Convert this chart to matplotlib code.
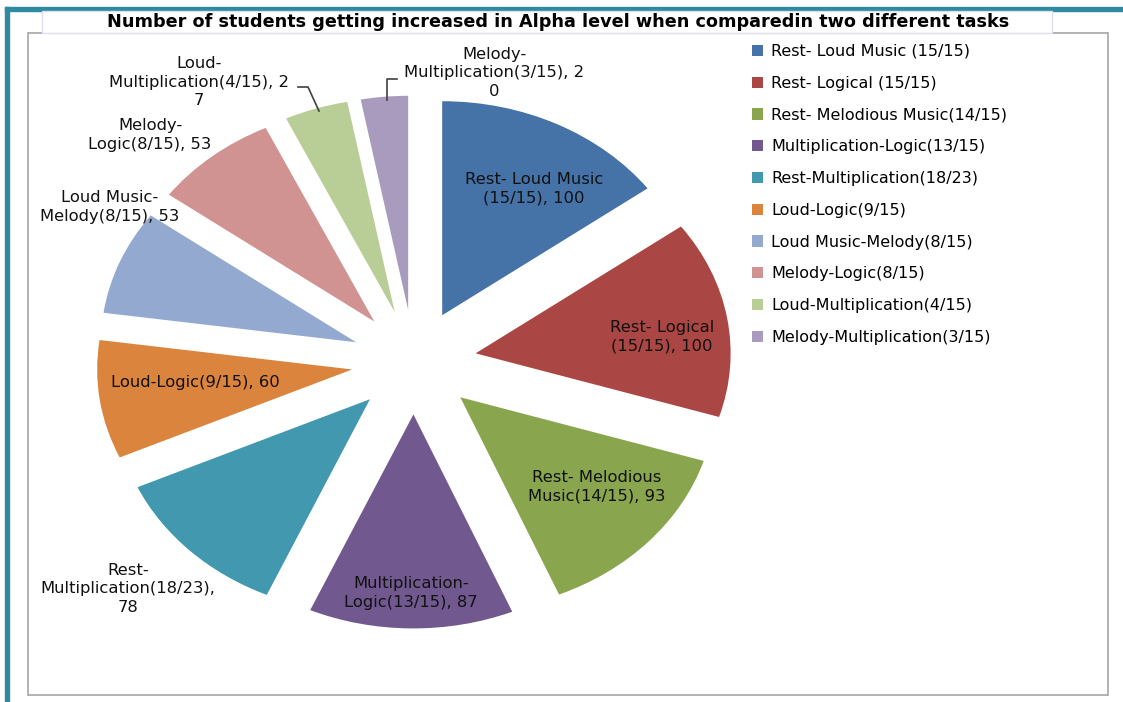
import numpy as np
import matplotlib.pyplot as plt
from matplotlib.patches import Rectangle

plt.rcParams['font.family'] = 'DejaVu Sans'

# slice data (clockwise from 12 o'clock)
names = ['Rest- Loud Music (15/15)', 'Rest- Logical (15/15)', 'Rest- Melodious Music(14/15)',
         'Multiplication-Logic(13/15)', 'Rest-Multiplication(18/23)', 'Loud-Logic(9/15)',
         'Loud Music-Melody(8/15)', 'Melody-Logic(8/15)', 'Loud-Multiplication(4/15)',
         'Melody-Multiplication(3/15)']
values = [100, 100, 93, 87, 78, 60, 53, 53, 27, 20]
slice_labels = ['Rest- Loud Music\n(15/15), 100', 'Rest- Logical\n(15/15), 100',
                'Rest- Melodious\nMusic(14/15), 93', 'Multiplication-\nLogic(13/15), 87',
                'Rest-\nMultiplication(18/23),\n78', 'Loud-Logic(9/15), 60',
                'Loud Music-\nMelody(8/15), 53', 'Melody-\nLogic(8/15), 53',
                'Loud-\nMultiplication(4/15), 2\n7', 'Melody-\nMultiplication(3/15), 2\n0']
colors = ['#4572A7', '#AA4643', '#89A54E', '#71588F', '#4198AF',
          '#DB843D', '#93A9CF', '#D19392', '#B9CD96', '#A99BBD']

W, H = 1123, 702
cx, cy, rx, ry = 414, 362, 255, 214   # pie centre / radii in pixels


def px(x, y):
    return (x - cx) / rx, (cy - y) / ry


fig = plt.figure(figsize=(W / 100, H / 100), dpi=100)

# outer decoration: teal border, chart frame, title box
fig.patches.append(Rectangle((5 / W, 0), 4 / W, 1 - 7 / H, transform=fig.transFigure,
                             color='#2E8A9E', zorder=0))
fig.patches.append(Rectangle((5 / W, 1 - 11 / H), 1 - 5 / W, 4 / H, transform=fig.transFigure,
                             color='#2E8A9E', zorder=0))
fig.patches.append(Rectangle((28 / W, 1 - 695 / H), 1080 / W, 662 / H, transform=fig.transFigure,
                             facecolor='white', edgecolor='#A6A6A6', lw=1.2, zorder=0))
fig.patches.append(Rectangle((42 / W, 1 - 33 / H), 1010 / W, 22 / H, transform=fig.transFigure,
                             facecolor='white', edgecolor='#DCE0EE', lw=1, zorder=0))

ax = fig.add_axes([0, 0, 1, 1])
ax.set_zorder(2)
ax.patch.set_alpha(0)
wedges, _ = ax.pie(values, colors=colors, startangle=90, counterclock=False,
                   explode=[0.245] * len(values), radius=1, wedgeprops=dict(linewidth=0))
ax.set_aspect('auto')
ax.set_xlim((0 - cx) / rx, (W - cx) / rx)
ax.set_ylim((cy - H) / ry, cy / ry)
ax.axis('off')

ax.text(*px(558, 22), 'Number of students getting increased in Alpha level when comparedin two different tasks',
        ha='center', va='center', fontsize=12.7, fontweight='bold')

# data label positions (pixels)
label_pos = [(534, 189), (662, 337), (597, 487), (411, 593), (128, 589),
             (195, 383), (110, 207), (150, 135), (199, 82), (494, 73)]
for lab, (x, y) in zip(slice_labels, label_pos):
    ax.text(*px(x, y), lab, ha='center', va='center', fontsize=11.8,
            color='#111111', linespacing=1.3)

# leader lines for the two small slices
for pts in ([(298, 87), (308, 87), (319, 111)], [(397, 79), (387, 79), (387, 100)]):
    xs, ys = zip(*[px(a, b) for a, b in pts])
    ax.plot(xs, ys, color='#404040', lw=1.2)

ax.legend(wedges, names, loc='upper left', bbox_to_anchor=(752 / W, 1 - 44 / H),
          bbox_transform=fig.transFigure, frameon=False, fontsize=11.5,
          handlelength=0.7, handleheight=0.7, handletextpad=0.5, labelspacing=1.05,
          borderpad=0, borderaxespad=0)

fig.savefig('out.png', dpi=100)
